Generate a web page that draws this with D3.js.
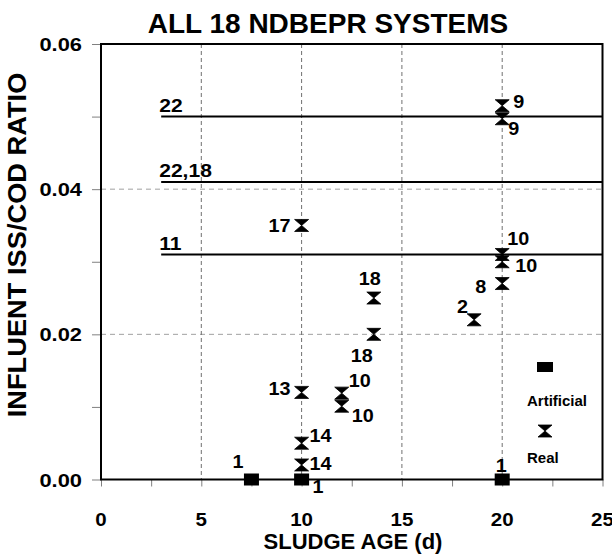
<!DOCTYPE html>
<html><head><meta charset="utf-8">
<script src="https://cdn.jsdelivr.net/npm/d3@7"></script>
<style>
html,body{margin:0;padding:0;background:#fff;}
svg text{font-family:"Liberation Sans",Arial,sans-serif;font-weight:bold;fill:#000;}
</style></head>
<body><svg id="c" width="612" height="555"></svg>
<script>
// ---- data ----
const artificialX = [7.5, 10, 20];
const artificialY = [0, 0, 0];
const artificialLabels = ["1", "1", "1"];
const realX = [20, 20, 10, 20, 20, 20, 18.6, 13.6, 13.6, 10, 12, 12, 10, 10];
const realY = [0.0515, 0.0497, 0.035, 0.031, 0.030, 0.027, 0.022, 0.025, 0.020, 0.012, 0.0119, 0.0101, 0.005, 0.002];
const realLabels = ["9", "9", "17", "10", "10", "8", "2", "18", "18", "13", "10", "10", "14", "14"];
const limitY = [0.050, 0.041, 0.031];
const limitLabels = ["22", "22,18", "11"];
const limitStartX = 3;
const xTicks = [0, 5, 10, 15, 20, 25];
const xMinorTicks = [0, 2.5, 5, 7.5, 10, 12.5, 15, 17.5, 20, 22.5, 25];
const yTicks = [0, 0.02, 0.04, 0.06];
const yMinorTicks = [0, 0.01, 0.02, 0.03, 0.04, 0.05, 0.06];
const xGrid = [5, 10, 15, 20];
const yGrid = [0.02, 0.04];

// ---- label layout (pixel offsets: [dx, dy, anchor]) ----
const realLabelPos = [[11,2,"start"],[6,16,"start"],[-11,6.5,"end"],[5,-9.5,"start"],[13,10,"start"],
  [-16,9.5,"end"],[-6,-7,"end"],[-4,-13,"middle"],[-12,28,"middle"],[-11,3,"end"],
  [7,-6,"start"],[10,16,"start"],[8,-1,"start"],[8,5,"start"]];
const artLabelPos = [[-8,-11.5,"end"],[11,13.5,"start"],[-1,-7.5,"middle"]];

const svg = d3.select("#c");
const L = 101, R = 602.5, T = 44, B = 479.5;
const x = d3.scaleLinear().domain([0, 25]).range([L, R]);
const y = d3.scaleLinear().domain([0, 0.06]).range([B, T]);

function stretch(sel, f) {
  sel.each(function () {
    const w = this.getComputedTextLength();
    d3.select(this).attr("textLength", w * f).attr("lengthAdjust", "spacingAndGlyphs");
  });
}

// grid
svg.append("g").selectAll("line").data(yGrid).join("line")
  .attr("x1", L).attr("x2", R).attr("y1", d => y(d)).attr("y2", d => y(d))
  .attr("stroke", "#a0a0a0").attr("stroke-width", 1).attr("stroke-dasharray", "5,4");
svg.append("g").selectAll("line").data(xGrid).join("line")
  .attr("y1", T).attr("y2", B).attr("x1", d => x(d)).attr("x2", d => x(d))
  .attr("stroke", "#707070").attr("stroke-width", 1).attr("stroke-dasharray", "4,3");

// axes ticks
const xAxis = d3.axisBottom(x).tickValues(xMinorTicks).tickSize(7).tickFormat("");
const gx = svg.append("g").attr("transform", `translate(0,${B})`).call(xAxis);
gx.select(".domain").remove();
gx.selectAll("line").attr("stroke", "#808080");
const yAxis = d3.axisLeft(y).tickValues(yMinorTicks).tickSize(9).tickFormat("");
const gy = svg.append("g").attr("transform", `translate(${L},0)`).call(yAxis);
gy.select(".domain").remove();
gy.selectAll("line").attr("stroke", "#808080");

// tick labels
svg.append("g").selectAll("text").data(xTicks).join("text")
  .attr("x", d => x(d)).attr("y", 526).attr("text-anchor", "middle")
  .style("font-size", "19px").text(d => d).call(stretch, 1.08);
svg.append("g").selectAll("text").data(yTicks).join("text")
  .attr("x", 82).attr("y", d => y(d) + 7).attr("text-anchor", "end")
  .style("font-size", "19px").text(d => d.toFixed(2)).call(stretch, 1.15);

// frame
svg.append("rect").attr("x", L).attr("y", T).attr("width", R - L).attr("height", B - T)
  .attr("fill", "none").attr("stroke", "#000").attr("stroke-width", 2);

// limit lines
svg.append("g").selectAll("line").data(limitY).join("line")
  .attr("x1", x(limitStartX)).attr("x2", R).attr("y1", d => y(d)).attr("y2", d => y(d))
  .attr("stroke", "#000").attr("stroke-width", 2);
svg.append("g").selectAll("text").data(limitY).join("text")
  .attr("x", x(limitStartX) - 2).attr("y", d => y(d) - 4.5)
  .style("font-size", "18px").text((d, i) => limitLabels[i]).call(stretch, 1.17);

// markers
const hourglass = "M-7,-6H7L0,0Z M-7,6H7L0,0Z";
const real = realX.map((d, i) => ({x: d, y: realY[i], label: realLabels[i], pos: realLabelPos[i]}));
const art = artificialX.map((d, i) => ({x: d, y: artificialY[i], label: artificialLabels[i], pos: artLabelPos[i]}));

svg.append("g").selectAll("rect").data(art).join("rect")
  .attr("x", d => x(d.x) - 7.5).attr("y", d => y(d.y) - 6).attr("width", 15).attr("height", 12)
  .attr("fill", "#000");
svg.append("g").selectAll("path").data(real).join("path")
  .attr("transform", d => `translate(${x(d.x)},${y(d.y)})`).attr("d", hourglass)
  .attr("fill", "#000").attr("stroke", "#000").attr("stroke-width", 0.8);

// data labels
svg.append("g").selectAll("text").data(real.concat(art)).join("text")
  .attr("x", d => x(d.x) + d.pos[0]).attr("y", d => y(d.y) + d.pos[1])
  .attr("text-anchor", d => d.pos[2]).style("font-size", "18px").text(d => d.label)
  .call(stretch, 1.1);

// legend
const lg = svg.append("g");
lg.append("rect").attr("x", 537).attr("y", 362).attr("width", 16).attr("height", 10).attr("fill", "#000");
lg.append("text").attr("x", 527).attr("y", 406).style("font-size", "15px").text("Artificial");
lg.append("path").attr("transform", "translate(545,431)").attr("d", hourglass)
  .attr("fill", "#000").attr("stroke", "#000").attr("stroke-width", 0.8);
lg.append("text").attr("x", 527).attr("y", 463).style("font-size", "15px").text("Real");

// titles
svg.append("text").attr("x", 328).attr("y", 33).attr("text-anchor", "middle")
  .style("font-size", "28px").text("ALL 18 NDBEPR SYSTEMS");
svg.append("text").attr("x", 353).attr("y", 549).attr("text-anchor", "middle")
  .style("font-size", "22px").text("SLUDGE AGE (d)");
svg.append("text").attr("transform", "translate(26,245) rotate(-90)").attr("text-anchor", "middle")
  .style("font-size", "25px").text("INFLUENT ISS/COD RATIO").call(stretch, 1.09);
</script></body></html>
